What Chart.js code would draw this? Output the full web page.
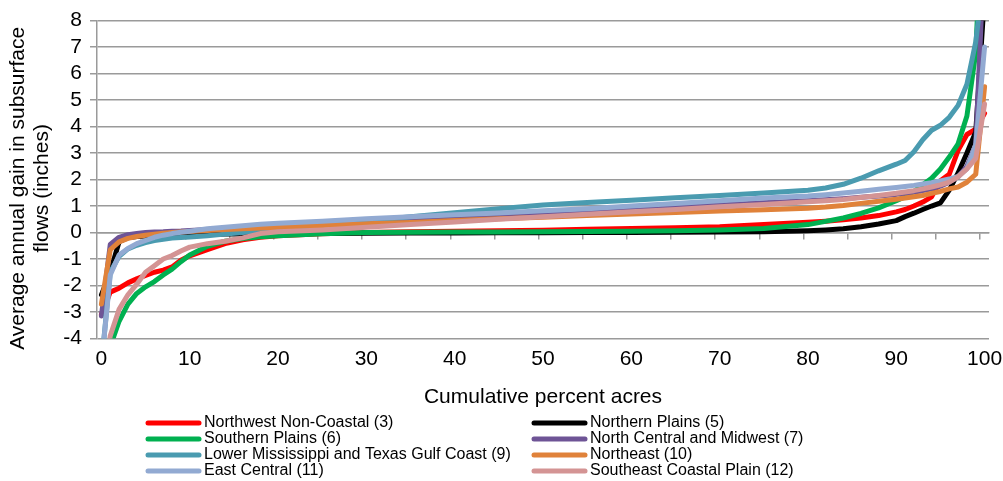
<!DOCTYPE html>
<html>
<head>
<meta charset="utf-8">
<script src="https://cdn.jsdelivr.net/npm/chart.js@4"></script>
<style>
  html, body { margin: 0; padding: 0; background: #fff; }
  #wrap { width: 1003px; height: 481px; }
</style>
</head>
<body>
<div id="wrap"><canvas id="flows"></canvas></div>
<script>
// cumulative percent acres (x positions)
const pct = [0,1,2,3,4,5,6,7,8,9,10,12,14,16,18,20,25,30,35,40,45,50,55,60,65,70,75,80,82,84,86,88,90,91,92,93,94,95,96,97,98,99,100];

const northwest = [-3.1,-2.25,-2.1,-1.9,-1.75,-1.62,-1.5,-1.42,-1.3,-1.05,-0.88,
  -0.65,-0.42,-0.27,-0.18,-0.12,
  -0.05,0.0,0.03,0.05,0.07,0.09,0.12,0.15,0.18,0.22,0.3,0.39,
  0.43,0.48,0.55,0.64,0.78,
  0.87,1.0,1.15,1.35,1.95,2.2,3.1,3.7,3.9,4.5];
const northernPlains = [-2.35,-1.5,-0.35,-0.2,-0.15,-0.13,-0.11,-0.1,-0.1,-0.09,-0.08,
  -0.07,-0.06,-0.06,-0.05,-0.05,
  -0.04,-0.03,-0.02,-0.02,-0.01,-0.01,0.0,0.0,0.01,0.02,0.03,0.07,
  0.1,0.14,0.22,0.32,0.45,
  0.6,0.73,0.87,1.0,1.12,1.6,2.25,3.0,3.8,9.0];
const southernPlains = [-6,-4.3,-3.35,-2.7,-2.3,-2.05,-1.85,-1.6,-1.38,-1.1,-0.85,
  -0.52,-0.33,-0.23,-0.16,-0.12,
  -0.05,0.0,0.01,0.02,0.02,0.03,0.04,0.05,0.07,0.1,0.15,0.3,
  0.42,0.55,0.72,0.93,1.2,
  1.35,1.55,1.8,2.05,2.4,2.85,3.35,4.4,6.8,14];
const northCentral = [-3.15,-0.45,-0.18,-0.08,-0.04,0.0,0.02,0.03,0.05,0.06,0.08,
  0.11,0.14,0.18,0.22,0.27,
  0.35,0.43,0.5,0.58,0.66,0.73,0.8,0.88,0.96,1.04,1.12,1.2,
  1.24,1.28,1.33,1.38,1.44,
  1.48,1.53,1.58,1.65,1.75,1.9,2.1,2.5,3.3,11];
const lowerMississippi = [-5,-1.5,-0.9,-0.62,-0.48,-0.38,-0.3,-0.25,-0.21,-0.19,-0.17,
  -0.12,-0.06,0.0,0.06,0.12,
  0.28,0.43,0.6,0.75,0.9,1.04,1.13,1.22,1.31,1.4,1.49,1.6,
  1.68,1.82,2.05,2.33,2.58,
  2.72,3.05,3.5,3.86,4.05,4.35,4.8,5.6,7.2,10];
const northeast = [-2.7,-0.65,-0.35,-0.22,-0.15,-0.1,-0.06,-0.03,0.0,0.02,0.04,
  0.08,0.11,0.14,0.17,0.2,
  0.27,0.33,0.38,0.45,0.52,0.58,0.64,0.7,0.76,0.81,0.86,0.92,
  0.96,1.02,1.1,1.18,1.26,
  1.3,1.35,1.4,1.48,1.55,1.65,1.72,1.9,2.2,5.5];
const eastCentral = [-5,-1.6,-0.85,-0.6,-0.42,-0.3,-0.18,-0.1,-0.04,0.01,0.05,
  0.14,0.2,0.26,0.31,0.35,
  0.43,0.52,0.6,0.67,0.74,0.82,0.9,1.0,1.1,1.2,1.3,1.38,
  1.43,1.49,1.56,1.63,1.7,
  1.74,1.78,1.83,1.88,1.95,2.02,2.12,2.4,3.3,7.0];
const southeast = [-6,-3.9,-2.9,-2.35,-1.95,-1.5,-1.25,-1.0,-0.87,-0.7,-0.55,
  -0.42,-0.33,-0.2,-0.04,0.03,
  0.1,0.2,0.3,0.4,0.5,0.6,0.69,0.78,0.87,0.97,1.06,1.16,
  1.2,1.25,1.32,1.4,1.48,
  1.53,1.58,1.65,1.72,1.8,1.9,2.1,2.4,2.8,4.85];

const seriesNames = ['Northwest Non-Coastal (3)','Northern Plains (5)','Southern Plains (6)','North Central and Midwest (7)',
  'Lower Mississippi and Texas Gulf Coast (9)','Northeast (10)','East Central (11)','Southeast Coastal Plain (12)'];
const seriesValues = [northwest, northernPlains, southernPlains, northCentral, lowerMississippi, northeast, eastCentral, southeast];
const seriesColors = ['#ff0000','#000000','#00b050','#6e5496','#4a9bb0','#e0823a','#92aad2','#d49494'];

const xLabels = [0,10,20,30,40,50,60,70,80,90,100];
const xTickMarks = [4.5,9.5,14.5,19.5,24.5,29.5,34.5,39.5,44.5,49.5,54.5,59.5,64.5,69.5,74.5,79.5,84.5,89.5,94.5,99.5];

const FONT = "'Liberation Sans', Arial, sans-serif";
const GRID = '#9a9a9a';

const datasets = seriesNames.map((name, i) => ({
  label: name,
  data: pct.map((p, j) => ({x: p, y: seriesValues[i][j]})),
  borderColor: seriesColors[i],
  backgroundColor: seriesColors[i],
  borderWidth: 5,
  pointRadius: 0,
  tension: 0,
  borderJoinStyle: 'round',
  borderCapStyle: 'round',
  clip: 0,
  order: seriesNames.length - i
}));

// two column legend under the axis title
const legendRows = [423, 439, 455, 471];
const legendCols = [146, 532];
const columnLegend = {
  id: 'columnLegend',
  afterDraw(chart) {
    const ctx = chart.ctx;
    ctx.save();
    ctx.font = '16px ' + FONT;
    ctx.textBaseline = 'middle';
    chart.data.datasets.forEach((ds, i) => {
      const x = legendCols[i % 2];
      const y = legendRows[Math.floor(i / 2)];
      ctx.strokeStyle = ds.borderColor;
      ctx.lineWidth = 5;
      ctx.lineCap = 'round';
      ctx.beginPath();
      ctx.moveTo(x + 2, y);
      ctx.lineTo(x + 53, y);
      ctx.stroke();
      ctx.fillStyle = '#000';
      ctx.fillText(ds.label, x + 58, y);
    });
    ctx.restore();
  }
};

new Chart('flows', {
  type: 'line',
  data: { datasets },
  plugins: [columnLegend],
  options: {
    responsive: true,
    maintainAspectRatio: false,
    animation: false,
    layout: { padding: { top: 15, right: 14, bottom: 70, left: 0 } },
    plugins: { legend: { display: false }, tooltip: { enabled: false } },
    scales: {
      x: {
        type: 'linear',
        position: 'bottom',
        min: -0.5,
        max: 100.5,
        afterBuildTicks: s => { s.ticks = xLabels.map(v => ({ value: v })); },
        afterFit: s => { s.height = 72.5; s.paddingRight = 0; s.paddingLeft = 0; },
        grid: { display: true, drawOnChartArea: false, drawTicks: false },
        border: { display: false },
        ticks: { font: { family: FONT, size: 21 }, color: '#000', padding: 8, maxRotation: 0, autoSkip: false },
        title: { display: true, text: 'Cumulative percent acres', font: { family: FONT, size: 21 }, color: '#000', padding: { top: 0, bottom: 1 } }
      },
      xAxisLine: {
        type: 'linear',
        axis: 'x',
        position: { y: 0 },
        min: -0.5,
        max: 100.5,
        afterBuildTicks: s => { s.ticks = xTickMarks.map(v => ({ value: v })); },
        afterFit: s => { s.paddingRight = 0; s.paddingLeft = 0; },
        grid: { drawOnChartArea: false, drawTicks: true, tickLength: 6, color: GRID, lineWidth: 1.5 },
        border: { color: GRID, width: 1.5 },
        ticks: { display: false }
      },
      y: {
        min: -4,
        max: 8,
        afterFit: s => { s.width = 97; },
        ticks: { stepSize: 1, autoSkip: false, font: { family: FONT, size: 21 }, color: '#000', padding: 8 },
        grid: { color: GRID, lineWidth: 1.5, tickLength: 7 },
        border: { color: GRID, width: 1.5 },
        title: {
          display: true,
          text: ['Average annual gain in subsurface   ', 'flows (inches)   '],
          font: { family: FONT, size: 21, lineHeight: 1.15 },
          color: '#000',
          padding: { top: 6, bottom: 0 }
        }
      }
    }
  }
});
</script>
</body>
</html>
